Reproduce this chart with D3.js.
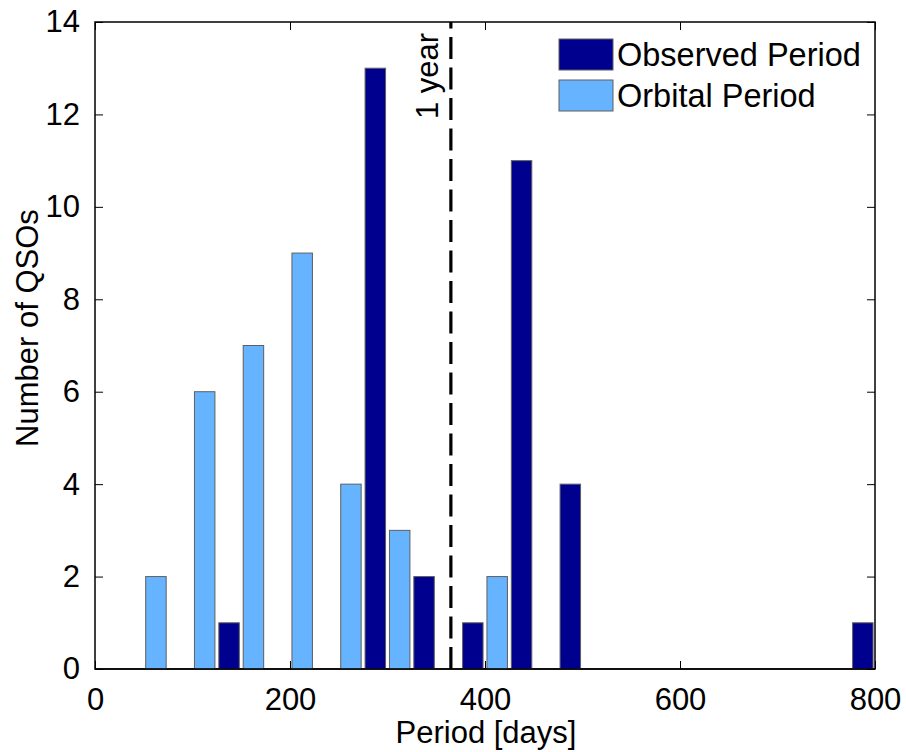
<!DOCTYPE html>
<html>
<head>
<meta charset="utf-8">
<script src="https://cdn.jsdelivr.net/npm/d3@7/dist/d3.min.js"></script>
<style>
  html, body { margin: 0; padding: 0; background: #fff; }
  svg text { font-family: "Liberation Sans", Arial, Helvetica, sans-serif; fill: #000; }
</style>
</head>
<body>
<svg id="chart" width="906" height="752"></svg>
<script>
// ---- data ----
const binCenters = d3.range(32).map(i => 12.5 + 25 * i); // days
const orbitalCounts = [0,0,2,0,6,0,7,0,9,0,4,0,3,0,0,0,2,0,0,0,0,0,0,0,0,0,0,0,0,0,0,0];
const observedCounts = [0,0,0,0,0,1,0,0,0,0,0,13,0,2,0,1,0,11,0,4,0,0,0,0,0,0,0,0,0,0,0,1];
const xTicks = [0, 200, 400, 600, 800];
const yTicks = [0, 2, 4, 6, 8, 10, 12, 14];
const seriesNames = ["Observed Period", "Orbital Period"];
const seriesColors = ["#00008F", "#66B3FF"];
const yearLine = 365;
const xLabel = "Period [days]";
const yLabel = "Number of QSOs";
const yearLabel = "1 year";

// ---- layout ----
const svg = d3.select("#chart");
const L = 95, R = 875, T = 22, B = 669;
const x = d3.scaleLinear().domain([0, 800]).range([L, R]);
const y = d3.scaleLinear().domain([0, 14]).range([B, T]);
const barW = 21; // days
const fs = 31;

const g = svg.append("g");
g.append("line").attr("x1", L).attr("x2", R).attr("y1", B).attr("y2", B)
  .attr("stroke", "#000").attr("stroke-width", 1.5);

function drawSeries(counts, color) {
  const data = binCenters.map((c, i) => ({c, v: counts[i]}));
  g.selectAll(null).data(data).enter().append("rect")
    .attr("x", d => x(d.c - barW / 2))
    .attr("width", d => x(d.c + barW / 2) - x(d.c - barW / 2))
    .attr("y", d => y(d.v))
    .attr("height", d => y(0) - y(d.v))
    .attr("fill", color)
    .attr("stroke", "#5f5f5f")
    .attr("stroke-width", 1);
}
drawSeries(orbitalCounts, seriesColors[1]);
drawSeries(observedCounts, seriesColors[0]);

// axes box
svg.append("rect").attr("x", L).attr("y", T).attr("width", R - L).attr("height", B - T)
  .attr("fill", "none").attr("stroke", "#000").attr("stroke-width", 1.5);

const tickLen = 8;
const xAxisB = d3.axisBottom(x).tickValues(xTicks).tickSizeInner(-tickLen).tickSizeOuter(0).tickPadding(tickLen + 11);
const gxb = svg.append("g").attr("transform", `translate(0,${B})`).call(xAxisB);
gxb.select(".domain").remove();
gxb.selectAll(".tick line").attr("stroke", "#000").attr("stroke-width", 1);
gxb.selectAll(".tick text").attr("font-size", fs).attr("font-family", "Liberation Sans, Arial, sans-serif").attr("fill", "#000");

const xAxisT = d3.axisTop(x).tickValues(xTicks).tickSizeInner(-tickLen).tickSizeOuter(0).tickFormat("");
const gxt = svg.append("g").attr("transform", `translate(0,${T})`).call(xAxisT);
gxt.select(".domain").remove();
gxt.selectAll(".tick line").attr("stroke", "#000");

const yAxisL = d3.axisLeft(y).tickValues(yTicks).tickSizeInner(-tickLen).tickSizeOuter(0).tickPadding(tickLen + 7);
const gyl = svg.append("g").attr("transform", `translate(${L},0)`).call(yAxisL);
gyl.select(".domain").remove();
gyl.selectAll(".tick line").attr("stroke", "#000");
gyl.selectAll(".tick text").attr("font-size", fs).attr("font-family", "Liberation Sans, Arial, sans-serif").attr("fill", "#000");

const yAxisR = d3.axisRight(y).tickValues(yTicks).tickSizeInner(-tickLen).tickSizeOuter(0).tickFormat("");
const gyr = svg.append("g").attr("transform", `translate(${R},0)`).call(yAxisR);
gyr.select(".domain").remove();
gyr.selectAll(".tick line").attr("stroke", "#000");

// 1-year dashed line
svg.append("line")
  .attr("x1", x(yearLine)).attr("x2", x(yearLine))
  .attr("y1", y(0)).attr("y2", y(14))
  .attr("stroke", "#000").attr("stroke-width", 3.2)
  .attr("stroke-dasharray", "22,8.5");

svg.append("text")
  .attr("transform", `translate(${x(yearLine) - 13},76) rotate(-90)`)
  .attr("text-anchor", "middle").attr("font-size", fs)
  .text(yearLabel);

// axis labels
svg.append("text").attr("x", (L + R) / 2 + 1).attr("y", 743)
  .attr("text-anchor", "middle").attr("font-size", fs).text(xLabel);
svg.append("text")
  .attr("transform", `translate(38,328) rotate(-90)`)
  .attr("text-anchor", "middle").attr("font-size", fs).text(yLabel);

// legend
const lg = svg.append("g");
const legY = [39, 80];
seriesNames.forEach((name, i) => {
  lg.append("rect").attr("x", 559).attr("y", legY[i]).attr("width", 54).attr("height", 31)
    .attr("fill", seriesColors[i]).attr("stroke", "#5f5f5f").attr("stroke-width", 1);
  lg.append("text").attr("x", 617).attr("y", legY[i] + 27)
    .attr("font-size", 32.5).text(name);
});
</script>
</body>
</html>
